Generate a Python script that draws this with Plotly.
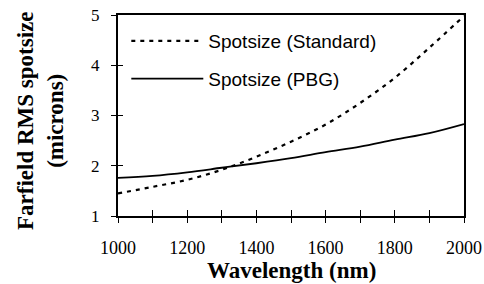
import plotly.graph_objects as go

wavelength = [1000, 1100, 1200, 1300, 1400, 1500, 1600, 1700, 1800, 1900, 2000]
spot_standard = [1.45, 1.58, 1.72, 1.92, 2.18, 2.48, 2.82, 3.25, 3.75, 4.35, 4.98]
spot_pbg = [1.76, 1.80, 1.87, 1.96, 2.05, 2.15, 2.27, 2.38, 2.52, 2.65, 2.83]

x_ticks = [1000, 1200, 1400, 1600, 1800, 2000]
y_ticks = [1, 2, 3, 4, 5]

fig = go.Figure()
fig.add_trace(go.Scatter(x=wavelength, y=spot_standard, mode="lines", name="Spotsize (Standard)",
                         line=dict(color="black", width=2.2, dash="4px,5px", shape="spline"),
                         legendgroup="a"))
fig.add_trace(go.Scatter(x=wavelength, y=spot_pbg, mode="lines", name="Spotsize (PBG)",
                         line=dict(color="black", width=1.8, shape="spline"),
                         legendgroup="b"))
# overlay axes carrying the inward half of the cross ticks
fig.add_trace(go.Scatter(x=[wavelength[0]], y=[spot_pbg[0]], xaxis="x2", yaxis="y2",
                         mode="markers", marker=dict(opacity=0), showlegend=False, hoverinfo="skip"))

serif = "Liberation Serif, Times New Roman, serif"
fig.update_layout(
    width=484, height=284,
    margin=dict(l=118, r=20, t=15, b=68, autoexpand=False),
    paper_bgcolor="white", plot_bgcolor="white",
    showlegend=True,
    legend=dict(x=0.024, y=0.965, xanchor="left", yanchor="top", bgcolor="rgba(0,0,0,0)",
                font=dict(family="Liberation Sans, Arial, sans-serif", size=19, color="black"),
                itemwidth=72, tracegroupgap=10, traceorder="grouped"),
    xaxis=dict(range=[1000, 2000], tickvals=x_ticks, ticks="outside", ticklen=5, tickwidth=1,
               tickcolor="black", showgrid=False, zeroline=False, showline=True, linewidth=2,
               linecolor="black", mirror=True, ticklabelstandoff=9,
               minor=dict(dtick=100, tick0=1000, ticks="outside", ticklen=5, tickwidth=1, tickcolor="black"),
               tickfont=dict(family=serif, size=18, color="black")),
    yaxis=dict(range=[1, 5], tickvals=y_ticks, ticks="outside", ticklen=5, tickwidth=1,
               tickcolor="black", showgrid=False, zeroline=False, showline=True, linewidth=2,
               linecolor="black", mirror=True, ticklabelstandoff=8,
               tickfont=dict(family=serif, size=17, color="black")),
    xaxis2=dict(range=[1000, 2000], dtick=100, tick0=1000, ticks="inside", ticklen=6, tickwidth=1,
                tickcolor="black", showticklabels=False, showgrid=False, zeroline=False,
                overlaying="x", anchor="y"),
    yaxis2=dict(range=[1, 5], dtick=1, tick0=1, ticks="inside", ticklen=5, tickwidth=1,
                tickcolor="black", showticklabels=False, showgrid=False, zeroline=False,
                overlaying="y", anchor="x"),
    annotations=[
        dict(text="<b>Wavelength (nm)</b>", xref="paper", yref="paper", x=0.5, y=-0.269,
             xanchor="center", yanchor="middle", showarrow=False,
             font=dict(family=serif, size=23, color="black")),
        dict(text="<b>Farfield RMS spotsize<br>(microns)</b>", xref="paper", yref="paper",
             x=-0.2254, y=0.4726, xanchor="center", yanchor="middle", textangle=-90,
             showarrow=False, font=dict(family=serif, size=23, color="black")),
    ],
)

fig.write_html("out.html", config={"displayModeBar": False},
               post_script="document.body.style.margin='0';document.body.style.overflow='hidden';")
